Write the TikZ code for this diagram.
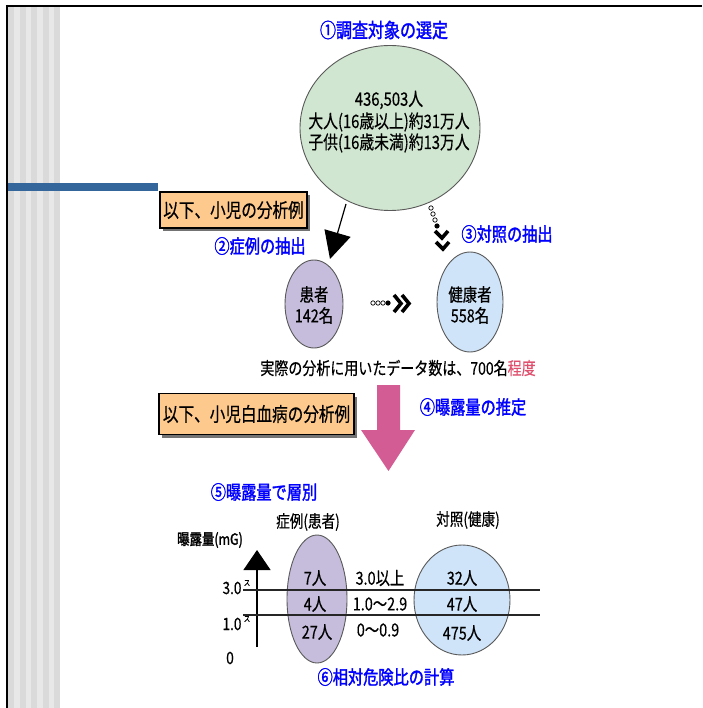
\documentclass[tikz,border=0pt]{standalone}
\usepackage{fontspec}
\usetikzlibrary{shapes.geometric,arrows.meta}
\newfontfamily\jp[FakeStretch=0.8,FakeBold=0.4]{Noto Sans CJK JP}
\newfontfamily\jpb[FakeStretch=0.8,FakeBold=1.6]{Noto Sans CJK JP}
\definecolor{sdark}{HTML}{DADADA}
\definecolor{slight}{HTML}{E8E8E8}
\definecolor{barblue}{HTML}{34659B}
\definecolor{cgreen}{HTML}{D0E6D0}
\definecolor{clav}{HTML}{C6BDDC}
\definecolor{cblue}{HTML}{CFE4F8}
\definecolor{corange}{HTML}{FDC98D}
\definecolor{cpink}{HTML}{D45C94}
\definecolor{cred}{HTML}{E0506E}
\begin{document}
\begin{tikzpicture}[x=1pt,y=-1pt,
  txt/.style={inner sep=0pt,font=\jp\fontsize{18}{21}\selectfont,align=center},
  btxt/.style={inner sep=0pt,font=\jpb\fontsize{19}{22}\selectfont,text=blue},
  oval/.style={ellipse,draw=black!65,line width=0.9pt,inner sep=0pt},
  tagbox/.style={draw=black,line width=1.2pt,fill=corange,inner sep=0pt,
     font=\jp\fontsize{19.5}{22}\selectfont},
  shadow/.style={fill=black!55},
  chev/.style={line width=3.6pt,line cap=butt,line join=miter},
  hollow/.style={draw=black,line width=0.7pt,fill=white}]
\useasboundingbox (0,0) rectangle (702,708);
\fill[white] (0,0) rectangle (702,708);
% side stripes
\foreach \a/\b/\c in {8/14/sdark,14/20/slight,20/26/sdark,26/31/slight,31/37/sdark,37/43/slight,43/49/sdark,49/54/slight,54/60/sdark}
  \fill[\c] (\a,7) rectangle (\b,708);
\fill[barblue] (8,183) rectangle (158,191);
\draw[line width=2.5pt] (5.75,6) -- (702,6);
\draw[line width=2.5pt] (7,5) -- (7,708);

% top circle
\node[btxt,font=\jpb\fontsize{20}{23}\selectfont] (t1) at (384,30) {①調査対象の選定};
\node[oval,fill=cgreen,minimum width=180pt,minimum height=165pt] (all) at (390,128) {};
\node[txt,font=\jp\fontsize{18.5}{21}\selectfont] (n1) at (389,100) {436,503人};
\node[txt,font=\jp\fontsize{18.5}{21}\selectfont] (n2) at (389,122) {大人(16歳以上)約31万人};
\node[txt,font=\jp\fontsize{18.5}{21}\selectfont] (n3) at (389,143) {子供(16歳未満)約13万人};

% tag box 1
\fill[shadow] (163,195) rectangle (310,231);
\node[tagbox,minimum width=147pt,minimum height=36pt] (tag1) at (233.5,210) {以下、小児の分析例};

\node[btxt] (l2) at (260,246) {②症例の抽出};
\node[btxt] (l3) at (507,234) {③対照の抽出};

% patients / healthy
\node[oval,fill=clav,minimum width=58pt,minimum height=88pt] (pat) at (314,304) {};
\node[txt] at (314,305) {患者\\142名};
\node[oval,fill=cblue,minimum width=66pt,minimum height=100pt] (hea) at (470,302) {};
\node[txt] at (470,305) {健康者\\558名};

% arrow to patients
\coordinate (a1s) at (346,204);
\coordinate (a1e) at (330,259);
\draw[line width=1.2pt,-{Triangle[length=27pt,width=27pt]}] (a1s) -- (a1e);

% dotted chevron chain to healthy
\draw[hollow] (431,208) circle (2.2);
\draw[hollow] (433,214) circle (2.2);
\draw[hollow] (435,220) circle (2.2);
\fill (437,226) circle (2.6);
\draw[chev] (435,231) -- (442,238) -- (448,231);
\draw[chev] (436,242) -- (443,249) -- (449,242);

% horizontal chain
\draw[hollow] (373,303) circle (2.2);
\draw[hollow] (378,303) circle (2.2);
\draw[hollow] (383,303) circle (2.2);
\fill (388,303) circle (2.6);
\draw[chev] (394,295) -- (401,303.5) -- (394,312);
\draw[chev] (402,295) -- (409,303.5) -- (402,312);

\node[txt,font=\jp\fontsize{17.5}{21}\selectfont] (sum) at (398,368) {実際の分析に用いたデータ数は、700名\textcolor{cred}{程度}};

% pink arrow
\fill[cpink] (377,385) -- (400,385) -- (400,430) -- (415,430) -- (388.5,471) -- (361,430) -- (377,430) -- cycle;
\node[btxt] (l4) at (473,407) {④曝露量の推定};

% tag box 2
\fill[shadow] (162,397) rectangle (357,438);
\node[tagbox,minimum width=195pt,minimum height=41pt] (tag2) at (256.5,414) {以下、小児白血病の分析例};

% bottom part
\node[btxt] (l5) at (264,492) {⑤曝露量で層別};
\node[txt,font=\jp\fontsize{17}{19}\selectfont] (hc) at (308,522) {症例(患者)};
\node[txt,font=\jp\fontsize{17}{19}\selectfont] (hk) at (468,520) {対照(健康)};
\node[txt,font=\jpb\fontsize{15.5}{18}\selectfont] (yl) at (210,540) {曝露量(mG)};

\node[oval,fill=clav,minimum width=60pt,minimum height=128pt] (pat2) at (317,599) {};
\node[oval,fill=cblue,minimum width=96pt,minimum height=110pt] (hea2) at (462,600) {};

\coordinate (axb) at (257,647);
\coordinate (axt) at (257,550);
\draw[line width=1.1pt,-{Triangle[length=20pt,width=27pt]}] (axb) -- (axt);

\coordinate (h1l) at (243,590); \coordinate (h1r) at (540,590);
\coordinate (h2l) at (243,615); \coordinate (h2r) at (540,615);
\draw[line width=1.4pt,black!85] (h1l) -- (h1r);
\draw[line width=1.4pt,black!85] (h2l) -- (h2r);

\node[txt,font=\jp\fontsize{17}{19}\selectfont] at (232,588) {3.0};
\node[txt,font=\jp\fontsize{8}{9}\selectfont] at (247,583) {ス};
\node[txt,font=\jp\fontsize{17}{19}\selectfont] at (232,624) {1.0};
\node[txt,font=\jp\fontsize{8}{9}\selectfont] at (247,619) {ス};
\node[txt,font=\jp\fontsize{17}{19}\selectfont] at (230,658) {0};

\node[txt] at (315,578) {7人};
\node[txt] at (315,604) {4人};
\node[txt] at (317,632) {27人};
\node[txt] at (380,578) {3.0以上};
\node[txt] at (380,604) {1.0〜2.9};
\node[txt] at (378,630) {0〜0.9};
\node[txt] at (462,578) {32人};
\node[txt] at (462,604) {47人};
\node[txt] at (462,633) {475人};

\node[btxt] (l6) at (386,677) {⑥相対危険比の計算};
\end{tikzpicture}
\end{document}
